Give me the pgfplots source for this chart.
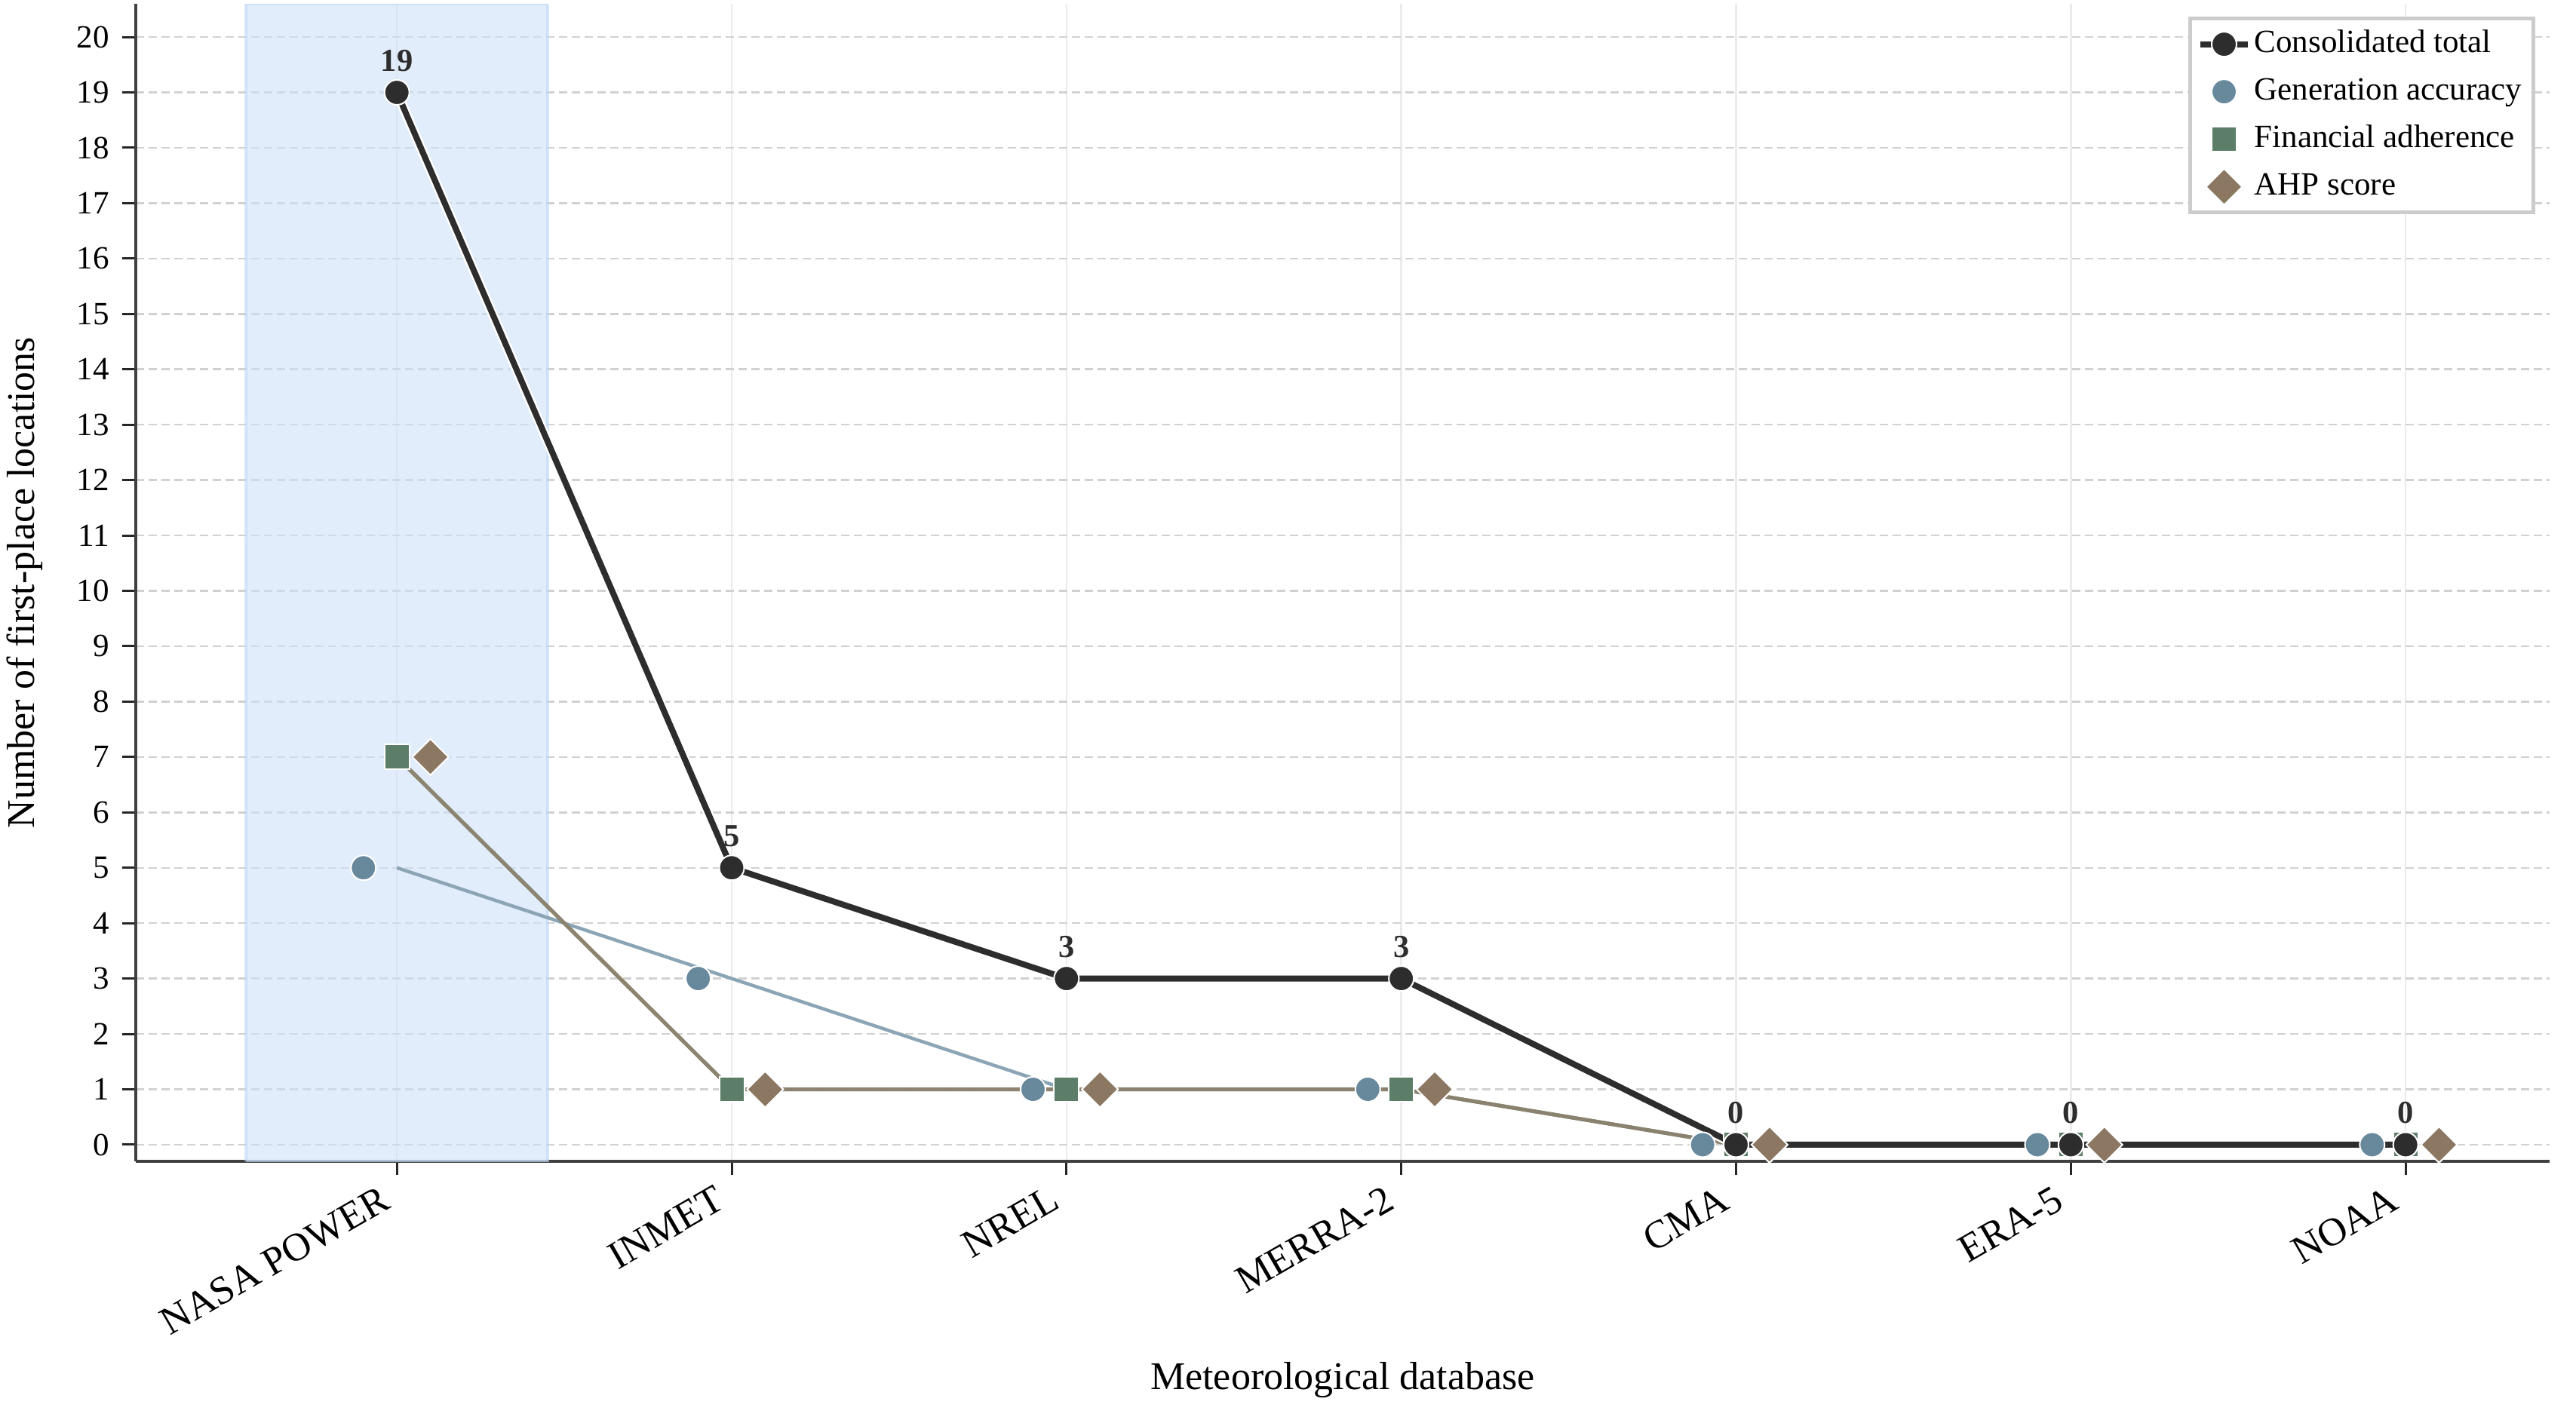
\documentclass[border=0pt]{standalone}
\usepackage{fontspec}
\setmainfont{Liberation Serif}
\usepackage{pgfplots}
\pgfplotsset{compat=1.18}
\pgfplotsset{shortline/.style={legend image code/.code={\draw[mark repeat=2,mark phase=2,##1] plot coordinates {(0.08cm,0cm) (0.3cm,0cm) (0.52cm,0cm)};}}}
\definecolor{cons}{RGB}{45,45,45}
\definecolor{genm}{RGB}{104,136,156}
\definecolor{genl}{RGB}{140,165,182}
\definecolor{finm}{RGB}{92,126,104}
\definecolor{ahpm}{RGB}{139,119,98}
\definecolor{finl}{RGB}{128,138,118}
\definecolor{ahpl}{RGB}{140,128,108}
\definecolor{shade}{RGB}{205,225,247}
\definecolor{shadeb}{RGB}{190,215,245}
\begin{document}
\begin{tikzpicture}
\useasboundingbox (-36pt,-70pt) rectangle (647pt,308pt);
\begin{axis}[
 scale only axis, width=640pt, height=307pt,
 xmin=-0.78, xmax=6.43, ymin=-0.3, ymax=20.6,
 axis x line*=bottom, axis y line*=left,
 axis line style={-, draw=black!75, line width=0.8pt},
 xtick={0,...,6},
 xticklabels={NASA POWER,INMET,NREL,MERRA-2,CMA,ERA-5,NOAA},
 ytick={0,...,20},
 tick align=outside, major tick length=3.5pt,
 tick style={black!85, line width=0.6pt},
 xmajorgrids, ymajorgrids,
 x grid style={black!8, line width=0.5pt},
 y grid style={black!18, dash pattern=on 2.2pt off 1.2pt, line width=0.5pt},
 /pgf/number format/assume math mode=true,
 yticklabel style={font=\fontsize{8.6}{10}\selectfont},
 xticklabel style={font=\fontsize{10.5}{12}\selectfont, xshift=-3.5pt, yshift=2.1pt, rotate=30, anchor=north east},
 xlabel={Meteorological database},
 ylabel={Number of first-place locations},
 label style={font=\fontsize{10.4}{12}\selectfont},
 xlabel style={at={(axis description cs:0.5,0)}, anchor=center, yshift=-58pt},
 ylabel style={at={(axis description cs:0,0.5)}, anchor=center, yshift=29.5pt},
 legend style={at={(axis description cs:0.994,0.989)}, anchor=north east,
   draw=black!20, line width=1pt, font=\fontsize{8.6}{10}\selectfont,
   nodes={inner sep=1pt, text height=6pt, text depth=1.7pt},
   row sep=2.9pt, inner sep=2pt, fill=white},
 legend cell align=left,
]
\addplot[fill=shade, fill opacity=0.6, draw=shadeb, draw opacity=0.6, line width=0.8pt, forget plot]
  coordinates {(-0.45,-0.3) (0.45,-0.3) (0.45,20.6) (-0.45,20.6) (-0.45,-0.3)};

\addlegendimage{cons, line width=1.6pt, mark=*, mark size=3.3pt, mark options={draw=white, fill=cons, line width=0.4pt}, shortline}
\addlegendentry{Consolidated total}

% lines
\addplot[genl, line width=0.9pt, forget plot] coordinates {(0,5)(1,3)(2,1)(3,1)(4,0)(5,0)(6,0)};
\addplot[finl, line width=1pt, opacity=0.85, forget plot] coordinates {(0,7)(1,1)(2,1)(3,1)(4,0)(5,0)(6,0)};
\addplot[ahpl, line width=1pt, opacity=0.85, forget plot] coordinates {(0,7)(1,1)(2,1)(3,1)(4,0)(5,0)(6,0)};
\addplot[white, line width=2.6pt, forget plot] coordinates {(0,19)(1,5)(2,3)(3,3)(4,0)(5,0)(6,0)};
\addplot[cons, line width=1.6pt, forget plot] coordinates {(0,19)(1,5)(2,3)(3,3)(4,0)(5,0)(6,0)};

% markers
\addplot[only marks, mark=*, mark size=3.3pt, mark options={fill=genm, draw=white, line width=0.4pt}]
  coordinates {(-0.1,5)(0.9,3)(1.9,1)(2.9,1)(3.9,0)(4.9,0)(5.9,0)};
\addlegendentry{Generation accuracy}
\addplot[only marks, mark=square*, mark size=3.3pt, mark options={fill=finm, draw=white, line width=0.4pt}]
  coordinates {(0,7)(1,1)(2,1)(3,1)(4,0)(5,0)(6,0)};
\addlegendentry{Financial adherence}
\addplot[only marks, mark=square*, mark size=3.4pt, mark options={fill=ahpm, draw=white, line width=0.4pt, rotate=45}]
  coordinates {(0.1,7)(1.1,1)(2.1,1)(3.1,1)(4.1,0)(5.1,0)(6.1,0)};
\addlegendentry{AHP score}
\addplot[only marks, mark=*, mark size=3.3pt, mark options={fill=cons, draw=white, line width=0.4pt}, forget plot,
  nodes near coords={\textbf{\pgfmathprintnumber[assume math mode=true]{\pgfplotspointmeta}}},
  nodes near coords style={font=\fontsize{8.5}{10}\selectfont, anchor=south, yshift=2pt, text=cons}]
  coordinates {(0,19)(1,5)(2,3)(3,3)(4,0)(5,0)(6,0)};
\end{axis}
\end{tikzpicture}
\end{document}
